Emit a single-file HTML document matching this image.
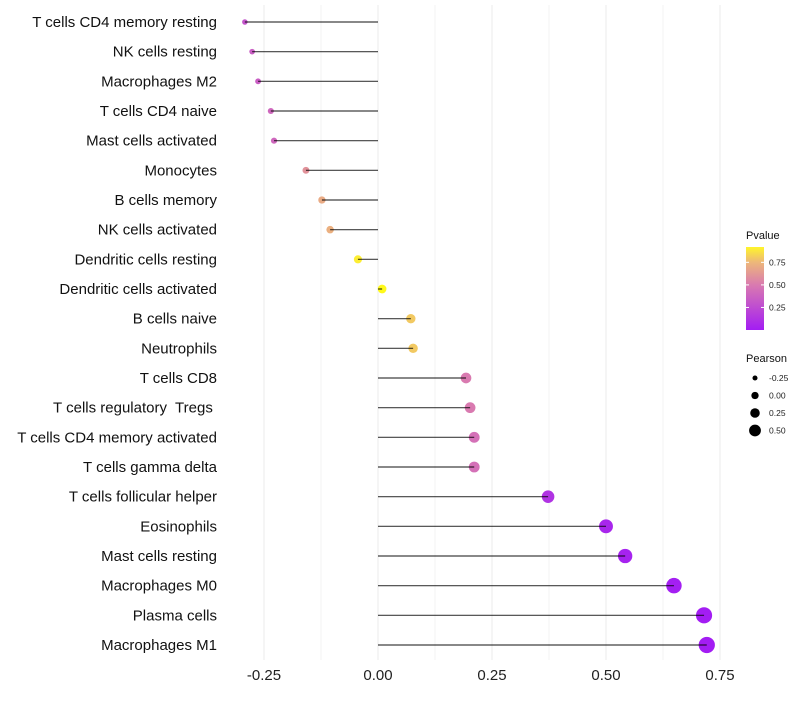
<!DOCTYPE html>
<html><head><meta charset="utf-8"><style>
body{margin:0;background:#fff;font-family:"Liberation Sans",sans-serif}
svg text{font-family:"Liberation Sans",sans-serif;white-space:pre}
</style></head><body>
<svg id="chart" width="800" height="700"></svg>
<script>
const categories=["T cells CD4 memory resting","NK cells resting","Macrophages M2","T cells CD4 naive","Mast cells activated","Monocytes","B cells memory","NK cells activated","Dendritic cells resting","Dendritic cells activated","B cells naive","Neutrophils","T cells CD8","T cells regulatory  Tregs ","T cells CD4 memory activated","T cells gamma delta","T cells follicular helper","Eosinophils","Mast cells resting","Macrophages M0","Plasma cells","Macrophages M1"];
const pearson=[-0.292,-0.276,-0.263,-0.235,-0.228,-0.158,-0.123,-0.105,-0.044,0.009,0.072,0.077,0.193,0.202,0.211,0.211,0.373,0.5,0.542,0.649,0.715,0.721];
const pvalues=[0.3,0.35,0.35,0.4,0.4,0.6,0.7,0.72,0.9,0.95,0.8,0.8,0.5,0.5,0.45,0.45,0.12,0.05,0.03,0.01,0.002,0.001];
const xTicks=[-0.25,0,0.25,0.5,0.75];
const xTickLabels=["-0.25","0.00","0.25","0.50","0.75"];
const legendTicks=[0.25,0.5,0.75];
const sizeLegend=[-0.25,0,0.25,0.5];

const NS="http://www.w3.org/2000/svg";
const svg=document.getElementById('chart');
const x=v=>378+v*456;
const y=i=>22+i*(623/21);
const pyLeg=p=>330-p*(83/0.92);
const r=v=>4.3+5.3*v;
const stops=[[0,[163,29,243]],[0.5,[217,122,176]],[0.75,[237,183,122]],[0.92,[255,245,42]],[1,[255,255,0]]];
function col(p){for(let k=1;k<stops.length;k++){if(p<=stops[k][0]){const a=stops[k-1],b=stops[k],t=(p-a[0])/(b[0]-a[0]);return 'rgb('+a[1].map((c,j)=>Math.round(c+(b[1][j]-c)*t)).join(',')+')';}}return 'rgb(255,255,0)';}
function el(t,at,txt){const e=document.createElementNS(NS,t);for(const k in at)e.setAttribute(k,at[k]);if(txt!=null)e.textContent=txt;svg.appendChild(e);return e;}

for(let v=-0.25;v<=0.751;v+=0.125){
const g=el('line',{x1:x(v),x2:x(v),y1:5,y2:660,stroke:'#ebebeb','stroke-width':Math.abs((v/0.25)%1)<0.01?1:0.6});


}
xTicks.forEach((v,i)=>{
const t=el('text',{x:x(v),y:680,'text-anchor':'middle','font-size':15,fill:'#222'},xTickLabels[i]);


});
categories.forEach((c,i)=>{
const t=el('text',{x:217,y:y(i)+5,'text-anchor':'end','font-size':15,fill:'#111'},c);


const d=el('circle',{cx:x(pearson[i]),cy:y(i),r:r(pearson[i]),fill:col(pvalues[i])});


const l=el('line',{x1:x(0),x2:x(pearson[i]),y1:y(i),y2:y(i),stroke:'#000','stroke-opacity':0.75,'stroke-width':1.2});


});
const defs=el('defs',{});
const lg=document.createElementNS(NS,'linearGradient');lg.setAttribute('id','pg');lg.setAttribute('x1',0);lg.setAttribute('x2',0);lg.setAttribute('y1',1);lg.setAttribute('y2',0);defs.appendChild(lg);
stops.slice(0,4).forEach(s=>{const st=document.createElementNS(NS,'stop');st.setAttribute('offset',s[0]/0.92);st.setAttribute('stop-color',col(s[0]));lg.appendChild(st);});
const tt=el('text',{x:746,y:239,'font-size':11,fill:'#111'},'Pvalue');

const cb=el('rect',{x:746,y:247,width:18,height:83,fill:'url(#pg)'});

legendTicks.forEach(v=>{
const t=el('text',{x:769,y:pyLeg(v)+3,'font-size':8.5,fill:'#222'},v.toFixed(2));

el('line',{x1:746,x2:749,y1:pyLeg(v),y2:pyLeg(v),stroke:'#fff'});
el('line',{x1:761,x2:764,y1:pyLeg(v),y2:pyLeg(v),stroke:'#fff'});
});
const st2=el('text',{x:746,y:362,'font-size':11,fill:'#111'},'Pearson');

sizeLegend.forEach((v,i)=>{
const c=el('circle',{cx:755,cy:378+i*17.5,r:r(v)*0.85,fill:'#000'});

const t=el('text',{x:769,y:381+i*17.5,'font-size':8.5,fill:'#222'},v.toFixed(2));

});
</script>
</body></html>
